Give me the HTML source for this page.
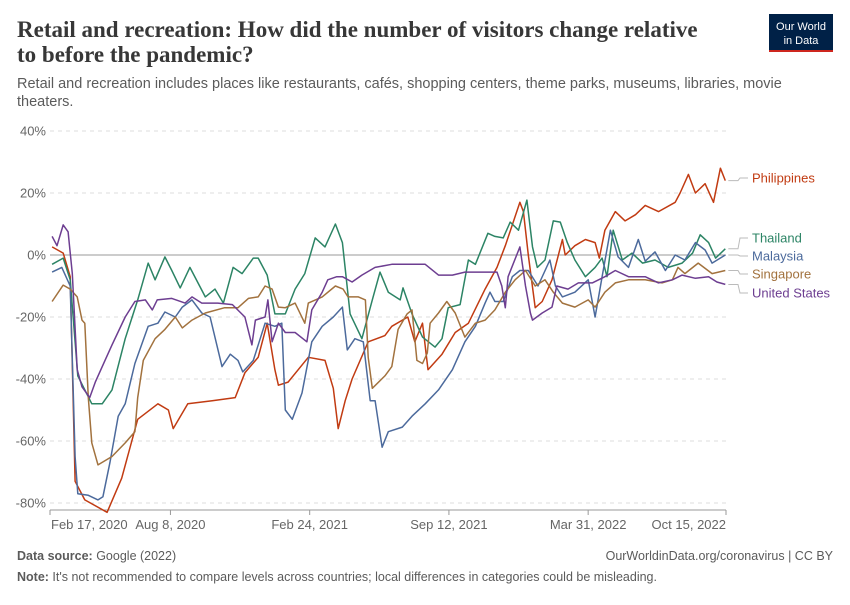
<!DOCTYPE html>
<html><head><meta charset="utf-8">
<style>
body{margin:0;background:#fff;width:850px;height:600px;overflow:hidden;font-family:"Liberation Sans",sans-serif}
svg text{font-family:"Liberation Sans",sans-serif}
svg text.serif{font-family:"Liberation Serif",serif}
</style></head><body>
<svg id="chart" width="850" height="600">
  <text class="serif" x="17" y="37" font-size="23" font-weight="bold" fill="#373737">Retail and recreation: How did the number of visitors change relative</text>
  <text class="serif" x="17" y="62" font-size="23" font-weight="bold" fill="#373737">to before the pandemic?</text>
  <text x="17" y="88" font-size="14.5" fill="#5b5b5b">Retail and recreation includes places like restaurants, cafés, shopping centers, theme parks, museums, libraries, movie</text>
  <text x="17" y="106" font-size="14.5" fill="#5b5b5b">theaters.</text>
  <g>
    <rect x="769" y="14" width="64" height="38" fill="#002147"/>
    <rect x="769" y="50" width="64" height="2" fill="#ce261e"/>
    <text x="801" y="30" font-size="11" fill="#fff" text-anchor="middle">Our World</text>
    <text x="801" y="44" font-size="11" fill="#fff" text-anchor="middle">in Data</text>
  </g>
  <g id="grid"></g>
  <g id="series"></g>
  <g id="labels"></g>
  <text x="17" y="560" font-size="12.5" fill="#5b5b5b"><tspan font-weight="bold">Data source:</tspan> Google (2022)</text>
  <text x="833" y="560" font-size="12.5" fill="#5b5b5b" text-anchor="end">OurWorldinData.org/coronavirus | CC BY</text>
  <text x="17" y="581" font-size="12.5" fill="#5b5b5b"><tspan font-weight="bold">Note:</tspan> It's not recommended to compare levels across countries; local differences in categories could be misleading.</text>
</svg>
<script>
const yTicks = [40, 20, 0, -20, -40, -60, -80];
const xTickDays = [0, 173, 373, 573, 773, 971];
const xTickLabels = ["Feb 17, 2020", "Aug 8, 2020", "Feb 24, 2021", "Sep 12, 2021", "Mar 31, 2022", "Oct 15, 2022"];
const seriesNames = ["Philippines", "Thailand", "Malaysia", "Singapore", "United States"];
const phDays = [3,19,29,36,50,82,103,126,155,170,177,198,233,266,280,299,312,323,328,342,371,395,407,414,424,434,457,481,491,514,524,535,543,563,582,601,625,642,654,675,680,687,697,707,721,736,740,754,769,783,789,797,812,826,841,855,874,898,905,917,927,941,953,963,970];
const phVals = [2.6,0.6,-7,-73,-79,-83,-72,-53,-48,-50,-56,-48,-47,-46,-38,-33,-22,-37,-42,-41,-33,-34,-43,-56,-47,-40,-28,-26,-23,-20,-28,-22,-37,-32,-25,-22,-11,-4,3,17,14,0,-17,-15,-8,5,0,3,5,4,-1,8,14,11,13,16,14,17,20,26,20,23,17,28,24];
const thDays = [3,19,29,40,60,75,89,108,126,141,151,165,175,187,201,223,237,249,263,276,292,299,312,323,338,352,366,381,395,410,420,431,448,463,474,486,503,507,520,535,553,563,572,589,601,611,629,639,651,661,673,685,693,700,711,723,733,743,754,769,783,793,800,809,822,836,851,869,888,908,923,934,946,956,970];
const thVals = [-3,-1,-8,-39,-48,-48,-43.5,-27,-14.5,-2.6,-8,-0.6,-5,-10.6,-4,-13.5,-11,-15.5,-4,-6,-1,-1,-6.5,-19,-19,-11,-6,5.5,2.6,10,4,-19,-27,-14.5,-5.5,-12,-14.5,-10.6,-19,-26.5,-29.7,-27,-17,-16,-1.6,-3,7,6,5.5,10.6,8,17.7,2.6,-4,-1.6,11,10.6,4,-1.6,-7,-4,-1,-7,8,-1.6,0.6,-2.6,-1.6,-4,-2.6,0.6,6.5,4,-1,2];
const myDays = [3,17,29,36,40,55,69,76,86,98,108,122,141,155,165,180,190,204,218,230,247,259,270,277,292,309,323,333,338,348,362,376,391,407,420,427,438,450,460,467,477,486,506,520,539,558,578,596,611,625,632,639,651,664,675,687,701,718,726,736,754,773,783,793,805,816,831,845,855,869,884,898,912,927,941,951,970];
const myVals = [-5.5,-4,-10,-65,-77,-77.5,-79,-78,-67,-52,-48,-35,-23,-22,-18.4,-20,-16.8,-14.5,-18.7,-20,-36,-32,-34,-37.7,-34,-22,-23,-22,-50,-53,-44.5,-28,-23,-20,-16.8,-30.6,-27,-28,-47,-47,-62,-57,-55.5,-52,-48,-43.5,-37,-28,-23,-15.5,-12,-15,-15,-7,-5,-5,-10,-1.6,-10,-13.5,-12,-8,-20,-7,8,-0.6,-4,5,-2,1,-5,0,-1.6,4,1.6,-2.6,0];
const sgDays = [3,19,29,39,46,50,55,60,69,89,108,122,126,134,151,165,180,190,204,223,251,270,285,299,309,319,328,338,352,366,371,391,410,421,428,443,453,457,463,481,491,500,513,520,527,535,542,546,558,570,582,596,611,625,639,654,668,683,697,711,723,736,754,773,783,797,812,831,855,879,894,902,912,931,951,970];
const sgVals = [-15,-9.7,-11,-13.5,-21,-22,-46,-60.6,-67.7,-65,-60.6,-57,-46,-34,-27,-24,-20,-23.5,-21,-18.7,-17,-17,-14,-13.5,-10,-11,-16.8,-17,-15.5,-22,-15.5,-13.5,-10,-11,-13.5,-13.5,-14.5,-33,-43,-39,-36,-24,-19,-17.7,-34,-35,-31.6,-22,-18.7,-15,-18.7,-26.5,-22,-21,-17.7,-12,-8,-5,-10,-8,-12,-15.5,-16.8,-14.5,-16.8,-12,-9,-8,-8,-9,-8,-4,-6,-2.6,-6,-5];
const usDays = [3,10,19,26,32,39,46,57,65,79,89,108,122,137,147,154,175,194,204,218,241,262,280,290,295,309,313,319,328,338,352,369,376,391,399,412,420,434,448,467,491,514,539,558,578,596,621,642,649,654,658,675,683,690,693,707,721,728,744,759,779,797,812,831,855,874,894,908,927,946,958,970];
const usVals = [6,3,9.7,7.5,-6,-37,-42.5,-46,-41,-34,-29,-20,-15,-14.5,-17.7,-14.5,-14,-15.5,-13.5,-15.5,-15.5,-16,-20,-29,-21,-20,-14.5,-28,-22,-25,-25,-28,-17.7,-12,-8,-7,-7,-8.7,-6.5,-4,-3,-3,-3,-6.5,-6.5,-5.5,-5.5,-5.5,-10,-17,-7,2.6,-10,-18.7,-21,-18.7,-16.8,-10,-11,-9,-9,-7,-5,-7,-7,-9,-8,-6.5,-7.5,-7,-8.7,-9.5];

const X0 = 50, X1 = 726, DMAX = 971, Y0 = 255, PX_PER_PCT = 3.1;
const xs = d => X0 + d * (X1 - X0) / DMAX;
const ys = v => Y0 - v * PX_PER_PCT;
const NS = "http://www.w3.org/2000/svg";
const mk = (tag, attrs, parent) => { const e = document.createElementNS(NS, tag); for (const k in attrs) e.setAttribute(k, attrs[k]); parent.appendChild(e); return e; };

const grid = document.getElementById('grid');
yTicks.forEach(t => {
  const ln = mk('line', {x1: X0, x2: X1, y1: ys(t), y2: ys(t), stroke: t === 0 ? '#9a9a9a' : '#dddddd', 'stroke-width': 1, 'stroke-dasharray': t === 0 ? 'none' : '4,4'}, grid);
  
  
  const tx = mk('text', {x: 46, y: ys(t) + 4.5, 'text-anchor': 'end', 'font-size': 13, fill: '#666'}, grid);
  tx.textContent = t + '%';
  
  
});
const baseY = 510;
const axis = mk('line', {x1: X0, x2: X1, y1: baseY, y2: baseY, stroke: '#999', 'stroke-width': 1}, grid);


xTickDays.forEach((d, i) => {
  const tk = mk('line', {x1: xs(d), x2: xs(d), y1: baseY, y2: baseY + 5, stroke: '#999'}, grid);
  
  
  const anchor = i === 0 ? 'start' : (i === xTickDays.length - 1 ? 'end' : 'middle');
  const tx = mk('text', {x: i === 0 ? xs(d) + 1 : xs(d), y: 529, 'text-anchor': anchor, 'font-size': 13, fill: '#666'}, grid);
  tx.textContent = xTickLabels[i];
  
  
});

const colors = ["#c13b12", "#2c8465", "#4c6a9c", "#a2723e", "#6d3e91"];
const dayArrs = [phDays, thDays, myDays, sgDays, usDays];
const valArrs = [phVals, thVals, myVals, sgVals, usVals];
const labelY = [178, 238, 256, 274, 293];
const sg = document.getElementById('series');
const lg = document.getElementById('labels');
seriesNames.forEach((n, i) => {
  const pts = dayArrs[i].map((d, j) => xs(d).toFixed(1) + ',' + ys(valArrs[i][j]).toFixed(1)).join(' ');
  const pl = mk('polyline', {points: pts, fill: 'none', stroke: colors[i], 'stroke-width': 1.5, 'stroke-linejoin': 'round'}, sg);
  
  
  const lastV = valArrs[i][valArrs[i].length - 1];
  const lastD = dayArrs[i][dayArrs[i].length - 1];
  const ly = labelY[i];
  const c = mk('polyline', {points: `${xs(lastD) + 3},${ys(lastV)} ${738},${ys(lastV)} ${740},${ly} ${748},${ly}`, fill: 'none', stroke: '#bbb', 'stroke-width': 1}, lg);
  
  
  const t = mk('text', {x: 752, y: ly + 4.5, 'font-size': 13, fill: colors[i]}, lg);
  t.textContent = n;
  
  
});
</script>
</body></html>
